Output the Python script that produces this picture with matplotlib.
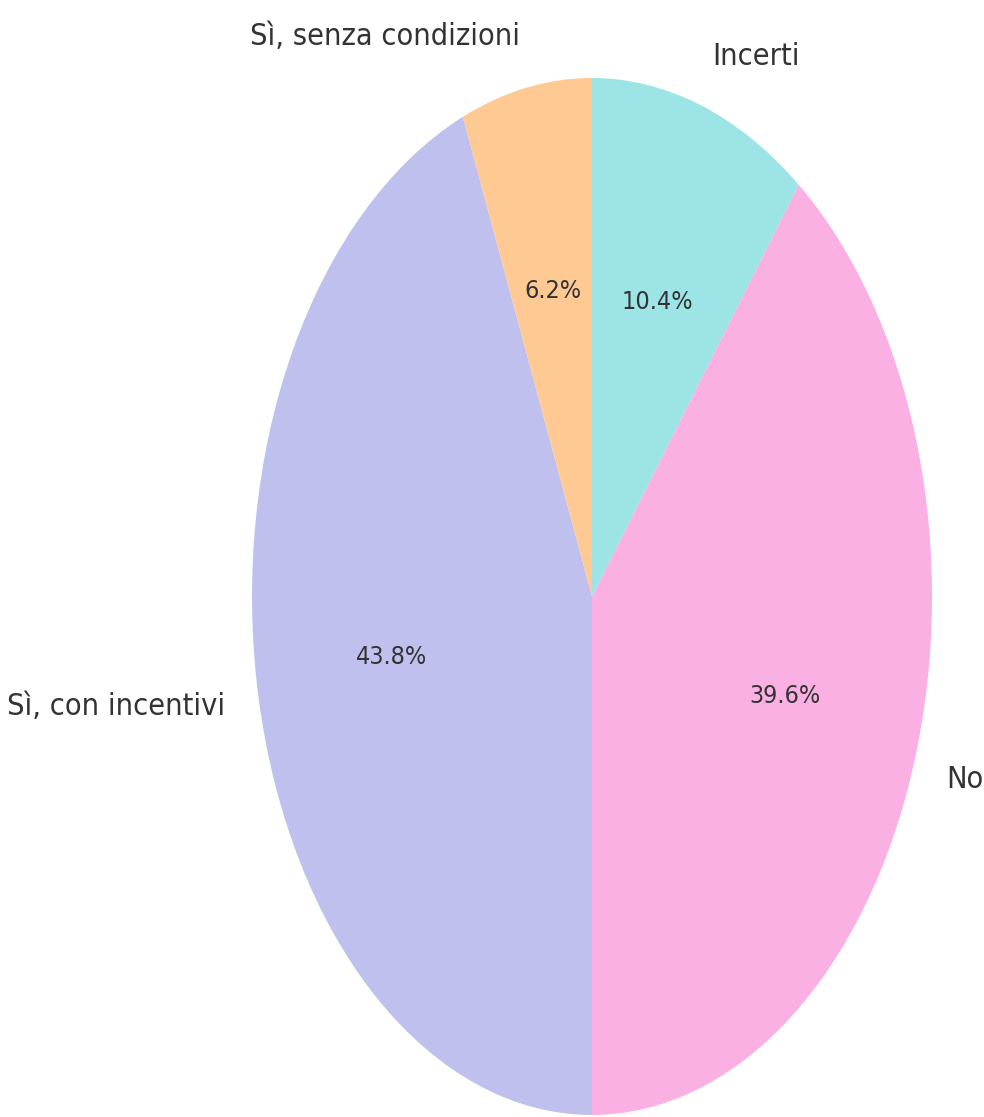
import matplotlib.pyplot as plt

labels = ['Incerti', 'No', 'Sì, con incentivi', 'Sì, senza condizioni']
values = [10.4, 39.6, 43.8, 6.2]
colors = ['#9ce4e6', '#fbb0e4', '#c0c0ee', '#ffc994']

fig = plt.figure(figsize=(9.84, 11.17), dpi=100)
ax = fig.add_axes([0.2561, 0.0018, 0.6911, 0.9284])

wedges, texts, autotexts = ax.pie(values, labels=labels, colors=colors,
                                  autopct='%1.1f%%', startangle=90,
                                  counterclock=False,
                                  textprops={'color': '#333333'})

# the original was squeezed sideways, so let the pie be an ellipse
ax.set_aspect('auto')
ax.set_xlim(-1, 1)
ax.set_ylim(-1, 1)

for t in texts:
    t.set_fontsize(22)
    t.set_fontstretch('condensed')
for t in autotexts:
    t.set_fontsize(18)
    t.set_fontstretch('condensed')

fig.savefig('out.png', dpi=100)
